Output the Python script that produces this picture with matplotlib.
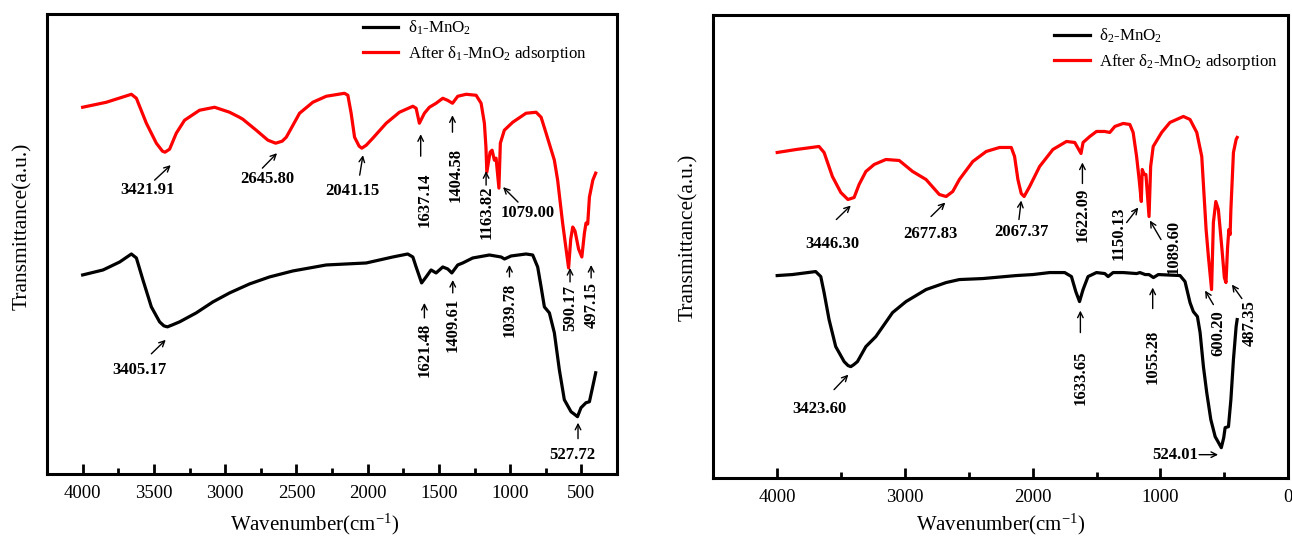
import matplotlib
matplotlib.use("Agg")
import matplotlib.pyplot as plt
from matplotlib.ticker import MultipleLocator

plt.rcParams["font.family"] = ["Liberation Serif", "DejaVu Serif"]
plt.rcParams["mathtext.fontset"] = "custom"
plt.rcParams["mathtext.rm"] = "Liberation Serif"
plt.rcParams["mathtext.it"] = "Liberation Serif:italic"
plt.rcParams["mathtext.bf"] = "Liberation Serif:bold"

# ---- FTIR spectra, sample 1 (wavenumber cm-1, transmittance a.u.) ----
wn_d1 = [4000, 3857, 3740, 3658, 3623, 3577, 3518, 3460, 3430, 3405.17, 3370, 3320,
         3203, 3086, 2969, 2829, 2689, 2525, 2291, 2010, 1917, 1824, 1719, 1683, 1660,
         1621.48, 1590, 1555, 1520, 1473, 1438, 1409.61, 1368, 1333, 1263, 1146, 1064,
         1039.78, 994, 889, 842, 807, 783, 760, 725, 690, 655, 620, 573, 545, 527.72,
         503, 468, 444, 421, 400]
t_d1 = [199, 204, 212, 220, 216, 194, 167, 152, 148, 147, 149, 152,
        161, 172, 181, 190, 197, 203, 209, 211, 214, 217, 220, 217, 207,
        191, 197, 204, 201, 207, 205, 201, 209, 211, 216, 219, 217,
        215, 218, 220, 219, 207, 187, 167, 161, 141, 104, 74, 62, 59, 57,
        66, 71, 72, 87, 101]

wn_d1_ads = [4000, 3834, 3658, 3623, 3553, 3483, 3440, 3421.91, 3390, 3343, 3285, 3180,
             3074, 2969, 2900, 2876, 2782, 2700, 2645.80, 2600, 2571, 2478, 2385, 2291,
             2163, 2139, 2116, 2092, 2060, 2041.15, 2010, 1964, 1870, 1777, 1683, 1660,
             1637.14, 1602, 1567, 1520, 1473, 1440, 1404.58, 1368, 1309, 1239, 1204,
             1181, 1170, 1163.82, 1141, 1127, 1111, 1099, 1079.00, 1069, 1041, 982, 889,
             818, 783, 748, 690, 667, 632, 590.17, 575, 561, 545, 520, 497.15, 479, 468,
             456, 444, 420, 400]
t_d1_ads = [367, 372, 380, 376, 351, 331, 323, 322, 325, 341, 354, 364,
            367, 362, 357, 355, 344, 334, 331, 333, 337, 361, 372, 378,
            381, 379, 361, 337, 328, 326, 329, 336, 351, 362, 368, 366,
            351, 361, 367, 371, 376, 374, 371, 378, 380, 379, 371,
            351, 327, 302, 322, 324, 314, 316, 286, 331, 344, 352, 361,
            362, 357, 341, 314, 294, 251, 206, 235, 247, 243, 225, 217, 241, 251,
            250, 277, 294, 301]

# ---- FTIR spectra, sample 2 ----
wn_d2 = [4000, 3882, 3699, 3659, 3633, 3594, 3542, 3476, 3445, 3423.60, 3400, 3372,
         3306, 3228, 3097, 2992, 2835, 2678, 2574, 2391, 2129, 1999, 1867, 1750, 1697,
         1663, 1633.65, 1606, 1567, 1501, 1436, 1410, 1371, 1292, 1187, 1161, 1120,
         1090, 1055.28, 1017, 847, 808, 769, 743, 711, 690, 664, 638, 606, 572, 550,
         524.01, 505, 494, 468, 449, 429, 408, 400]
t_d2 = [202, 203, 206, 201, 185, 158, 131, 116, 112, 111, 113, 116,
        131, 141, 165, 176, 188, 195, 198, 199, 202, 203, 205, 205, 201,
        186, 176, 188, 201, 205, 204, 201, 205, 205, 204, 205, 203,
        203, 200, 203, 202, 196, 175, 166, 161, 145, 111, 85, 58, 41, 36,
        30, 40, 50, 51, 78, 118, 151, 158]

wn_d2_ads = [4000, 3850, 3673, 3633, 3568, 3502, 3446.30, 3398, 3359, 3306, 3241, 3149,
             3045, 2940, 2835, 2731, 2677.83, 2626, 2574, 2469, 2364, 2260, 2168, 2142,
             2116, 2090, 2067.37, 2024, 1946, 1842, 1736, 1671, 1622.09, 1606, 1553, 1501,
             1436, 1397, 1357, 1292, 1240, 1214, 1187, 1167, 1150.13, 1143, 1127, 1114,
             1089.60, 1077, 1057, 991, 926, 821, 769, 716, 677, 643, 625, 600.20, 586,
             567, 547, 520, 500, 487.35, 475, 465, 455, 449, 429, 408, 400]
t_d2_ads = [325, 328, 331, 325, 301, 285, 278, 280, 293, 306, 313, 318,
            317, 306, 298, 283, 281, 286, 298, 316, 326, 330, 330, 321,
            298, 284, 281, 291, 311, 328, 336, 335, 324, 335, 341, 346,
            346, 345, 351, 354, 353, 345, 321, 298, 276, 308, 303, 303,
            261, 311, 331, 345, 355, 361, 358, 345, 321, 248, 221, 188, 255,
            276, 268, 230, 200, 195, 230, 248, 243, 268, 325, 338, 340]

# peak labels: (value, text x, text y, rotation, arrow tail, arrow head)
peaks_1 = [
    (3421.91, 3544, 284, 0, (3495, 294), (3382, 309)),
    (2645.80, 2702, 295, 0, (2739, 306), (2636, 321)),
    (2041.15, 2105, 283, 0, (2056, 299), (2033, 319)),
    (1637.14, 1600, 274, 90, (1628, 318), (1628, 340)),
    (1404.58, 1382, 299, 90, (1405, 342), (1405, 359)),
    (1163.82, 1167, 262, 90, (1169, 289), (1169, 303)),
    (1079.00, 877, 261, 0, (945, 272), (1050, 287)),
    (590.17, 578, 166, 90, (580, 192), (580, 206)),
    (497.15, 430, 169, 90, (432, 196), (432, 209)),
    (3405.17, 3600, 104, 0, (3518, 120), (3417, 134)),
    (1621.48, 1600, 124, 90, (1602, 156), (1602, 171)),
    (1409.61, 1401, 149, 90, (1403, 181), (1403, 194)),
    (1039.78, 1003, 164, 90, (1005, 197), (1005, 209)),
    (527.72, 561, 19, 0, (524, 35), (524, 51)),
]
peaks_2 = [
    (3446.30, 3571, 234, 0, (3537, 258), (3424, 272)),
    (2677.83, 2801, 244, 0, (2796, 261), (2684, 275)),
    (3423.60, 3673, 69, 0, (3555, 88), (3443, 103)),
    (2067.37, 2087, 246, 0, (2108, 258), (2090, 277)),
    (1622.09, 1611, 263, 90, (1611, 294), (1611, 315)),
    (1150.13, 1331, 244, 90, (1265, 255), (1174, 270)),
    (1089.60, 900, 231, 90, (996, 238), (1083, 257)),
    (1633.65, 1627, 100, 90, (1627, 145), (1627, 167)),
    (1055.28, 1061, 121, 90, (1061, 169), (1061, 190)),
    (600.20, 546, 144, 90, (586, 173), (651, 187)),
    (487.35, 298, 155, 90, (363, 179), (441, 193)),
    (524.01, 882, 23, 0, (698, 23), (549, 23)),
]

fig = plt.figure(figsize=(12.92, 5.38), dpi=100)
ax1 = fig.add_axes([0.0364, 0.1197, 0.4412, 0.8535])
ax2 = fig.add_axes([0.5521, 0.1121, 0.4450, 0.8593])


def draw_panel(ax, wn_a, t_a, wn_b, t_b, name, peaks, xlim, ylim, major, minor):
    ax.plot(wn_a, t_a, color="black", lw=2.3, label=f"δ$_{name}$-MnO$_2$")
    ax.plot(wn_b, t_b, color="red", lw=2.3,
            label=f"After δ$_{name}$-MnO$_2$ adsorption")
    for val, tx, ty, rot, tail, head in peaks:
        ax.text(tx, ty, f"{val:.2f}", rotation=rot, ha="center", va="center",
                fontsize=12, fontweight="bold")
        ax.annotate("", xy=head, xytext=tail,
                    arrowprops=dict(arrowstyle="->", lw=1.0, color="black",
                                    shrinkA=0, shrinkB=0))
    ax.set_xlim(*xlim)
    ax.set_ylim(*ylim)
    ax.xaxis.set_major_locator(MultipleLocator(major))
    ax.xaxis.set_minor_locator(MultipleLocator(minor))
    ax.set_yticks([])
    ax.tick_params(axis="x", which="both", direction="in", top=False,
                   labelsize=13.5, width=2, pad=8)
    ax.tick_params(axis="x", which="major", length=7)
    ax.tick_params(axis="x", which="minor", length=4)
    for sp in ax.spines.values():
        sp.set_linewidth(2.2)
    ax.set_xlabel("Wavenumber(cm$^{-1}$)", fontsize=15)
    ax.set_ylabel("Transmittance(a.u.)", fontsize=15.5)
    ax.legend(loc="upper left", frameon=False, fontsize=12.2, handlelength=2.1,
              handletextpad=0.55, labelspacing=0.4, borderpad=0,
              borderaxespad=0)


draw_panel(ax1, wn_d1, t_d1, wn_d1_ads, t_d1_ads, "1", peaks_1,
           (4250, 250), (0, 460), 500, 250)
draw_panel(ax2, wn_d2, t_d2, wn_d2_ads, t_d2_ads, "2", peaks_2,
           (4500, 0), (0, 462), 1000, 500)

ax1.xaxis.set_label_coords(0.47, -0.083)
ax1.yaxis.set_label_coords(-0.027, 0.538)
ax2.xaxis.set_label_coords(0.5, -0.074)
ax2.yaxis.set_label_coords(-0.027, 0.519)

ax1.get_legend().set_bbox_to_anchor((0.554, 0.99), transform=ax1.transAxes)
ax2.get_legend().set_bbox_to_anchor((0.5925, 0.975), transform=ax2.transAxes)

fig.savefig("out.png", dpi=100)
